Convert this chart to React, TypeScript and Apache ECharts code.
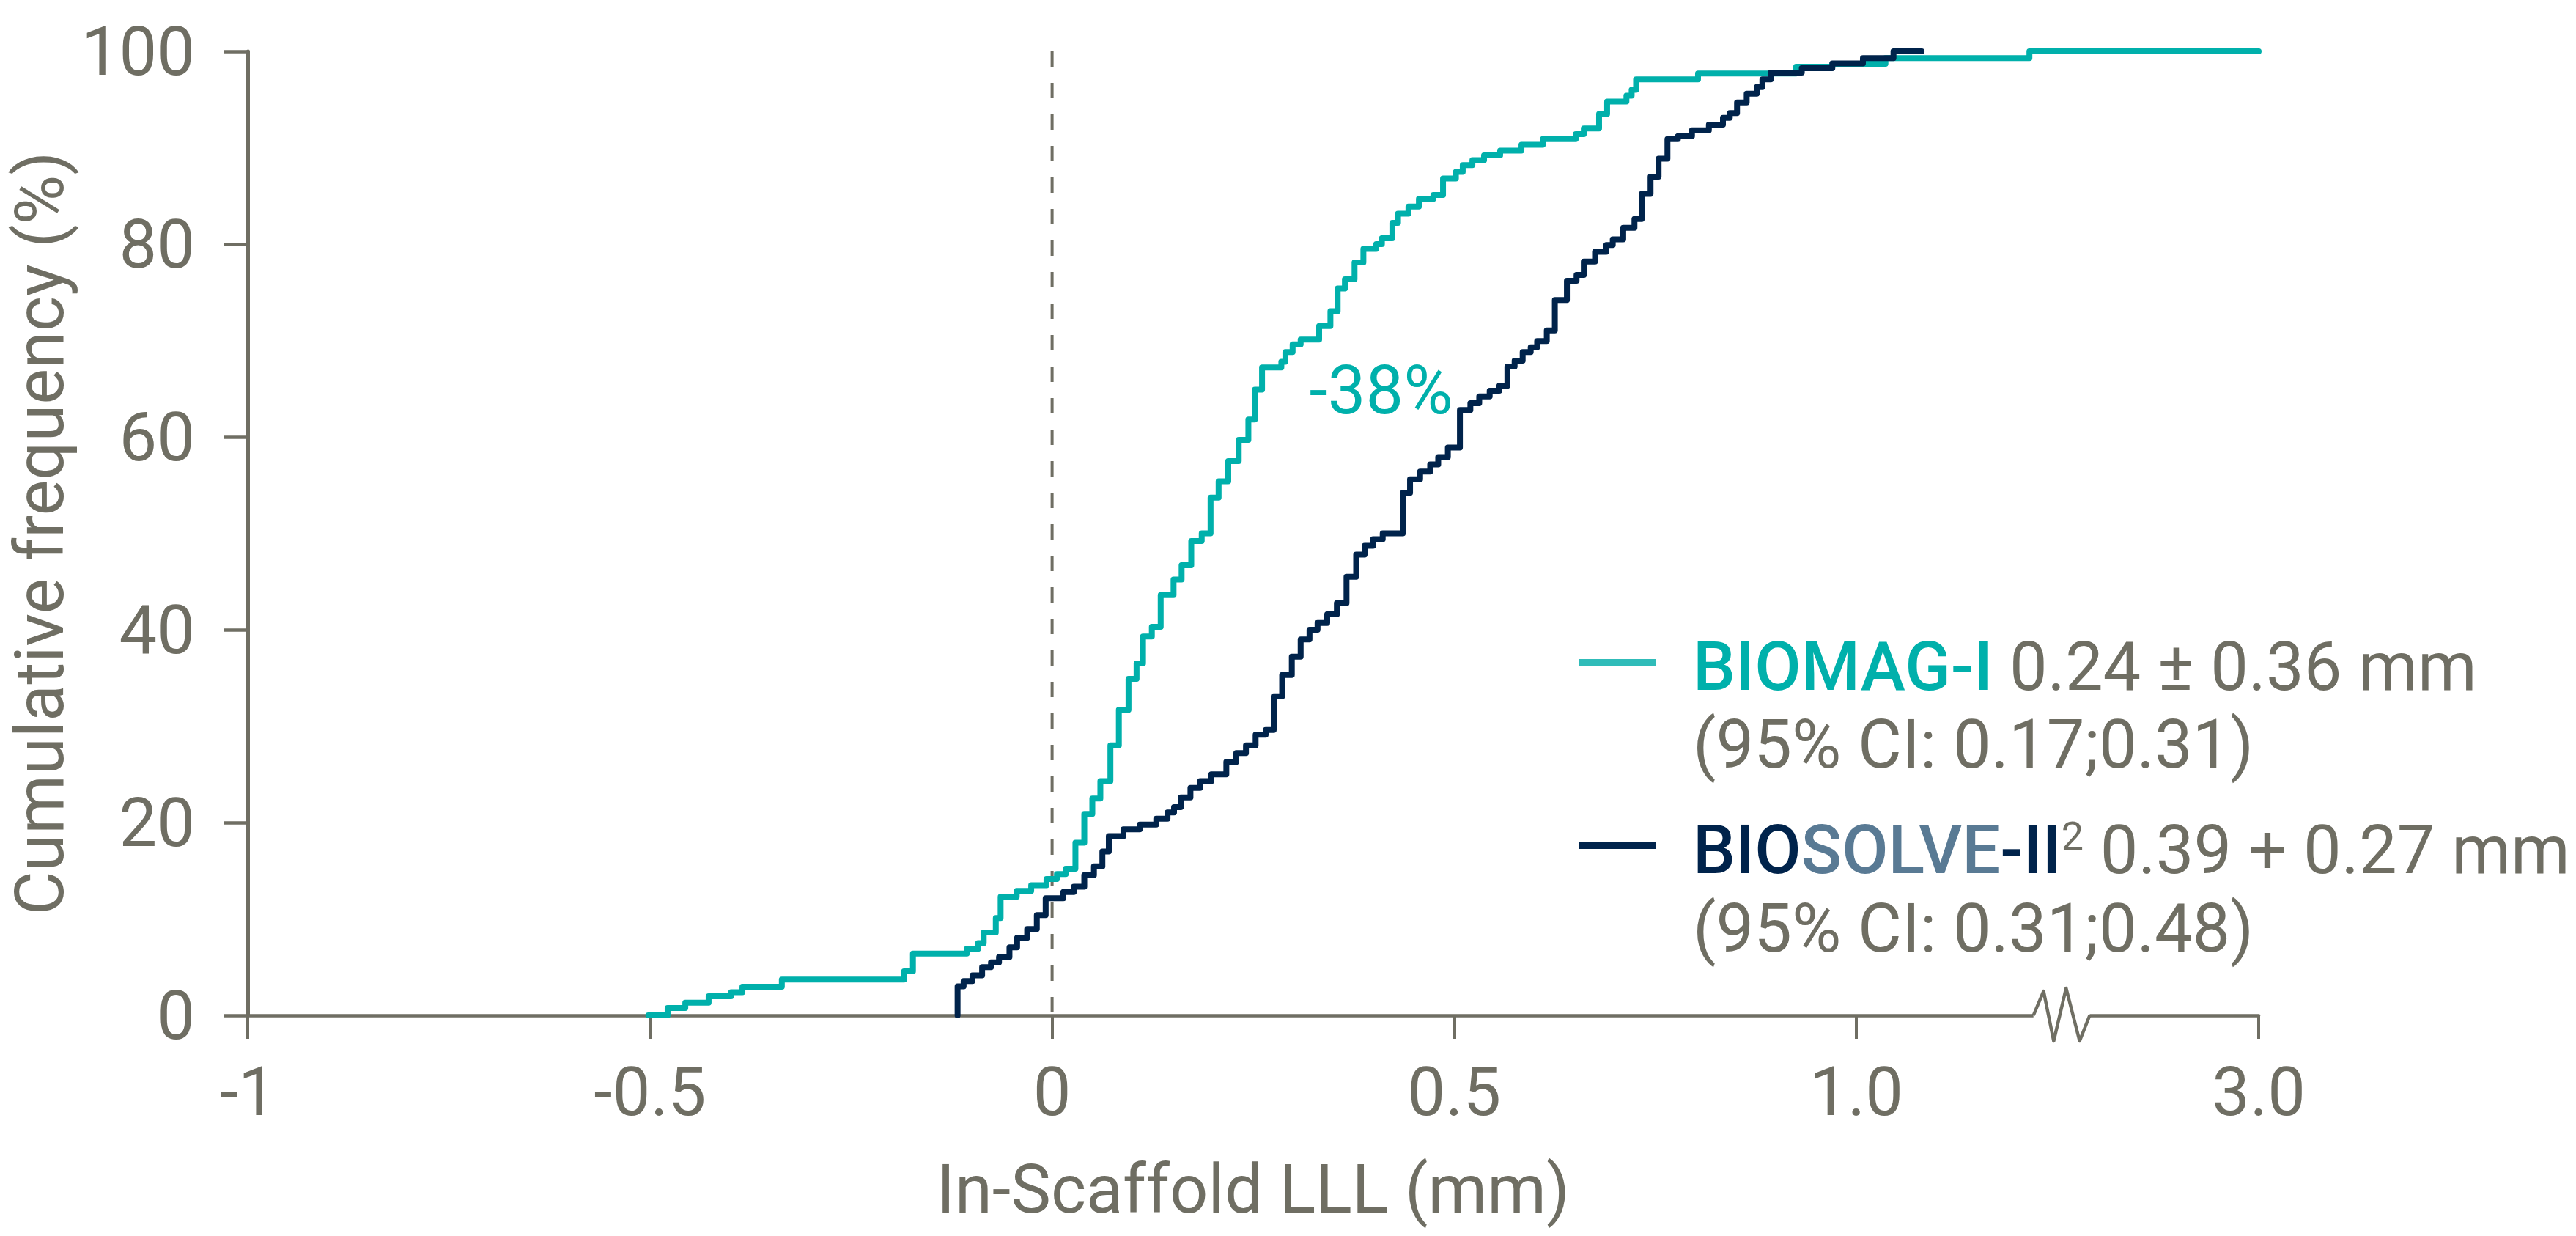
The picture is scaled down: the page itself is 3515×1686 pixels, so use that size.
import React, { useEffect, useRef } from "react";
import * as echarts from "echarts";

// ---------- data (x in mm, y in cumulative %) ----------
const BIOMAG_X = [-0.502, -0.478, -0.456, -0.427, -0.399, -0.385, -0.336, -0.184, -0.173, -0.106, -0.092, -0.085, -0.070, -0.064, -0.044, -0.026, -0.007, 0.006, 0.017, 0.029, 0.040, 0.050, 0.060, 0.0725, 0.083, 0.095, 0.105, 0.113, 0.124, 0.135, 0.151, 0.161, 0.173, 0.186, 0.197, 0.207, 0.219, 0.232, 0.244, 0.252, 0.261, 0.285, 0.290, 0.299, 0.309, 0.332, 0.346, 0.355, 0.364, 0.376, 0.387, 0.403, 0.410, 0.423, 0.430, 0.443, 0.456, 0.474, 0.486, 0.502, 0.5105, 0.5225, 0.537, 0.557, 0.5835, 0.610, 0.651, 0.661, 0.680, 0.690, 0.714, 0.7205, 0.726, 0.803, 0.925, 0.970, 1.036, 1.215, 3.0];
const BIOMAG_Y = [0, 0.76, 1.32, 1.98, 2.4, 2.96, 3.7, 4.56, 6.4, 6.9, 7.5, 8.6, 10.1, 12.3, 12.9, 13.5, 14.15, 14.65, 15.2, 17.9, 20.9, 22.5, 24.3, 28.0, 31.7, 34.9, 36.5, 39.3, 40.3, 43.6, 45.2, 46.7, 49.2, 50.0, 53.7, 55.4, 57.5, 59.7, 61.8, 64.9, 67.2, 67.8, 68.8, 69.6, 70.1, 71.5, 73.05, 75.4, 76.35, 78.1, 79.5, 80.0, 80.6, 82.2, 83.15, 83.9, 84.7, 85.1, 86.8, 87.5, 88.2, 88.7, 89.2, 89.7, 90.3, 90.9, 91.4, 92.0, 93.5, 94.8, 95.4, 96.0, 97.1, 97.7, 98.4, 98.7, 99.3, 100, 100];

const BIOSOLVE_X = [-0.1175, -0.1175, -0.110, -0.099, -0.087, -0.076, -0.066, -0.053, -0.0435, -0.031, -0.019, -0.008, 0.014, 0.027, 0.040, 0.052, 0.0625, 0.0705, 0.0887, 0.109, 0.1295, 0.1435, 0.1516, 0.160, 0.172, 0.184, 0.198, 0.2166, 0.229, 0.241, 0.253, 0.2655, 0.2755, 0.286, 0.298, 0.309, 0.320, 0.330, 0.342, 0.354, 0.366, 0.378, 0.3885, 0.399, 0.411, 0.436, 0.445, 0.4575, 0.470, 0.480, 0.492, 0.507, 0.520, 0.531, 0.544, 0.556, 0.566, 0.575, 0.585, 0.595, 0.603, 0.615, 0.625, 0.640, 0.652, 0.661, 0.675, 0.689, 0.697, 0.710, 0.724, 0.733, 0.744, 0.754, 0.765, 0.778, 0.7955, 0.8165, 0.834, 0.8425, 0.8515, 0.8635, 0.876, 0.883, 0.8935, 0.932, 0.970, 1.008, 1.046, 1.081];
const BIOSOLVE_Y = [0, 3.0, 3.55, 4.15, 5.0, 5.5, 6.05, 7.05, 8.05, 8.95, 10.4, 12.15, 12.8, 13.35, 14.55, 15.45, 17.0, 18.6, 19.3, 19.8, 20.4, 21.05, 21.6, 22.6, 23.6, 24.3, 25.0, 26.3, 27.2, 28.0, 29.1, 29.6, 33.1, 35.3, 37.2, 39.0, 40.0, 40.7, 41.6, 42.75, 45.5, 47.8, 48.7, 49.4, 50.0, 54.2, 55.6, 56.4, 57.15, 57.9, 58.9, 62.8, 63.5, 64.2, 64.8, 65.3, 67.3, 67.9, 68.8, 69.3, 69.95, 71.05, 74.2, 76.2, 76.8, 78.2, 79.2, 79.9, 80.5, 81.7, 82.6, 85.2, 87.0, 88.85, 90.9, 91.2, 91.8, 92.4, 93.1, 93.6, 94.7, 95.6, 96.3, 97.1, 97.8, 98.25, 98.75, 99.3, 100, 100];

// x-axis ticks (display positions) and their labels; the axis is broken between 1.22 and 2.79 mm
const X_TICKS = [-1, -0.5, 0, 0.5, 1, 1.5];
const X_TICK_LABELS = ["-1", "-0.5", "0", "0.5", "1.0", "3.0"];
const BREAK_FROM = 1.22; // mm, last value before the break
const BREAK_TO = 2.79; // mm, first value after the break
const BREAK_GAP = 0.07; // display width of the break
const ZERO_LINE_X = [0, 0];
const ZERO_LINE_Y = [100, 0];
const ANNOTATION = { x: 0.409, y: 64.8, text: "-38%" };

const LEGEND_1 = { name: "BIOMAG-I", stat: "0.24 ± 0.36 mm", ci: "(95% CI: 0.17;0.31)" };
const LEGEND_2 = { name1: "BIO", name2: "SOLVE", name3: "-II", sup: "2", stat: "0.39 + 0.27 mm", ci: "(95% CI: 0.31;0.48)" };

// ---------- styles ----------
const GRAY = "#6f6e63";
const TEAL = "#00b0ab";
const TEAL_LEGEND = "#30bcb9";
const NAVY = "#00234b";
const STEEL = "#597a94";
const FONT = "Roboto, 'Noto Sans', sans-serif";
const FS = 92;

const toDisplay = (v: number) => {
  if (v <= BREAK_FROM) return v;
  if (v >= BREAK_TO) return v - BREAK_TO + BREAK_FROM + BREAK_GAP;
  return BREAK_FROM;
};

const pairs = (xs: number[], ys: number[]) => xs.map((x, i) => [toDisplay(x), ys[i]]);

export default function App() {
  const ref = useRef<HTMLDivElement>(null);

  useEffect(() => {
    if (!ref.current) return;
    const chart = echarts.init(ref.current, undefined, { renderer: "svg", width: 3515, height: 1686 });

    const labelFor = (v: number) => {
      const i = X_TICKS.findIndex((t) => Math.abs(t - v) < 1e-9);
      return i >= 0 ? X_TICK_LABELS[i] : "";
    };

    chart.setOption({
      animation: false,
      backgroundColor: "#ffffff",
      grid: { left: 330, top: 70, right: 433, bottom: 301 },
      xAxis: {
        type: "value",
        min: -1,
        max: 1.5,
        interval: 0.5,
        axisLine: { show: true, onZero: false, lineStyle: { color: GRAY, width: 4.5 } },
        axisTick: { show: true, length: 32, lineStyle: { color: GRAY, width: 4 } },
        axisLabel: {
          margin: 58,
          color: GRAY,
          fontSize: FS,
          fontFamily: FONT,
          showMinLabel: true,
          showMaxLabel: true,
          formatter: (v: number) => labelFor(v),
        },
        splitLine: { show: false },
        name: "In-Scaffold LLL (mm)",
        nameLocation: "middle",
        nameGap: 191,
        nameTextStyle: { color: GRAY, fontSize: FS, fontFamily: FONT },
      },
      yAxis: {
        type: "value",
        min: 0,
        max: 100,
        interval: 20,
        axisLine: { show: true, onZero: false, lineStyle: { color: GRAY, width: 5 } },
        axisTick: { show: true, length: 33, lineStyle: { color: GRAY, width: 4.5 } },
        axisLabel: { margin: 72, color: GRAY, fontSize: FS, fontFamily: FONT },
        splitLine: { show: false },
        name: "Cumulative frequency (%)",
        nameLocation: "middle",
        nameGap: 214,
        nameTextStyle: { color: GRAY, fontSize: FS, fontFamily: FONT },
      },
      series: [
        {
          type: "line",
          name: "BIOMAG-I",
          step: "end",
          data: pairs(BIOMAG_X, BIOMAG_Y),
          symbol: "none",
          z: 3,
          lineStyle: { color: TEAL, width: 8, cap: "round", join: "round" },
        },
        {
          type: "line",
          name: "BIOSOLVE-II",
          step: "end",
          data: pairs(BIOSOLVE_X, BIOSOLVE_Y),
          symbol: "none",
          z: 4,
          lineStyle: { color: NAVY, width: 8, cap: "round", join: "round" },
        },
      ],
    });

    const px = (x: number, y: number) => chart.convertToPixel({ gridIndex: 0 }, [x, y]) as number[];
    const b0 = px(BREAK_FROM, 0);
    const b1 = px(BREAK_FROM + BREAK_GAP, 0);
    const w = b1[0] - b0[0];
    const zig = [
      [0, 0],
      [0.18, -33],
      [0.36, 35],
      [0.58, -37],
      [0.82, 35],
      [1, 0],
    ].map(([f, dy]) => [b0[0] + f * w, b0[1] + dy]);
    const ann = px(ANNOTATION.x, ANNOTATION.y);
    const z0 = px(ZERO_LINE_X[0], ZERO_LINE_Y[0]);
    const z1 = px(ZERO_LINE_X[1], ZERO_LINE_Y[1]);

    const grayTok = { fill: GRAY, fontSize: FS, fontFamily: FONT };
    const nameTok = (c: string) => ({ fill: c, fontSize: FS, fontFamily: FONT, fontWeight: 500 });

    chart.setOption({
      graphic: [
        {
          type: "line",
          z: 1,
          silent: true,
          shape: { x1: z0[0], y1: z0[1], x2: z1[0], y2: z1[1] },
          style: { stroke: GRAY, lineWidth: 4, lineDash: [21, 22] },
        },
        {
          type: "rect",
          z: 10,
          shape: { x: b0[0], y: b0[1] - 5, width: w, height: 10 },
          style: { fill: "#ffffff" },
        },
        {
          type: "polyline",
          z: 11,
          shape: { points: zig },
          style: { stroke: GRAY, lineWidth: 4.5, fill: null, lineJoin: "round" },
        },
        {
          type: "text",
          z: 12,
          x: ann[0],
          y: ann[1],
          style: { text: ANNOTATION.text, fill: TEAL, fontSize: FS, fontFamily: FONT, align: "center", verticalAlign: "middle" },
        },
        // legend entry 1
        {
          type: "line",
          z: 12,
          shape: { x1: 2155, y1: 904, x2: 2259, y2: 904 },
          style: { stroke: TEAL_LEGEND, lineWidth: 10 },
        },
        {
          type: "text",
          z: 12,
          x: 2310,
          y: 909,
          style: {
            text: `{n|${LEGEND_1.name}}{g| ${LEGEND_1.stat}}`,
            rich: { n: nameTok(TEAL), g: grayTok },
            align: "left",
            verticalAlign: "middle",
          },
        },
        {
          type: "text",
          z: 12,
          x: 2310,
          y: 1015,
          style: { text: LEGEND_1.ci, ...grayTok, align: "left", verticalAlign: "middle" },
        },
        // legend entry 2
        {
          type: "line",
          z: 12,
          shape: { x1: 2155, y1: 1153, x2: 2259, y2: 1153 },
          style: { stroke: NAVY, lineWidth: 10 },
        },
        {
          type: "text",
          z: 12,
          x: 2310,
          y: 1159,
          style: {
            text: `{a|${LEGEND_2.name1}}{b|${LEGEND_2.name2}}{a|${LEGEND_2.name3}}{s|${LEGEND_2.sup}}{g| ${LEGEND_2.stat}}`,
            rich: {
              a: nameTok(NAVY),
              b: nameTok(STEEL),
              s: { fill: GRAY, fontSize: 54, fontFamily: FONT, verticalAlign: "top" },
              g: grayTok,
            },
            align: "left",
            verticalAlign: "middle",
          },
        },
        {
          type: "text",
          z: 12,
          x: 2310,
          y: 1266,
          style: { text: LEGEND_2.ci, ...grayTok, align: "left", verticalAlign: "middle" },
        },
      ],
    });

    return () => chart.dispose();
  }, []);

  return (
    <div
      ref={ref}
      style={{ position: "fixed", left: 0, top: 0, width: 3515, height: 1686, background: "#ffffff" }}
    />
  );
}
